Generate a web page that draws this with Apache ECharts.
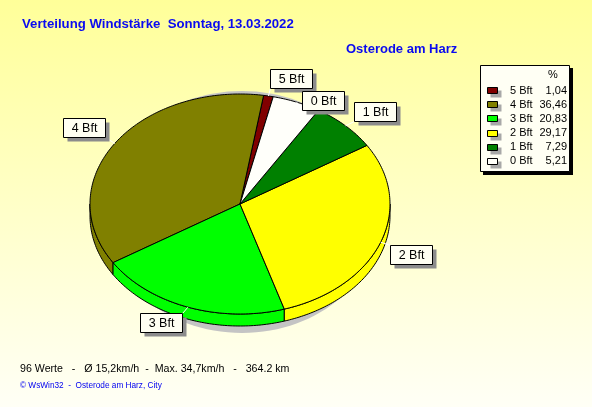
<!DOCTYPE html>
<html>
<head>
<meta charset="utf-8">
<script src="https://cdn.jsdelivr.net/npm/echarts@6/dist/echarts.min.js"></script>
<style>
  html, body { margin: 0; padding: 0; }
  #chart { width: 592px; height: 407px; }
</style>
</head>
<body>
<div id="chart"></div>
<script>
// Wind force distribution (Beaufort classes), share of readings in percent
const categories = ['5 Bft', '4 Bft', '3 Bft', '2 Bft', '1 Bft', '0 Bft'];
const percents = [1.04, 36.46, 20.83, 29.17, 7.29, 5.21];
const sliceColors = ['#800000', '#808000', '#00FF00', '#FFFF00', '#008000', '#FFFFFA'];

const titleText = 'Verteilung Windstärke  Sonntag, 13.03.2022';
const stationText = 'Osterode am Harz';
const statsText = '96 Werte   -   Ø 15,2km/h  -  Max. 34,7km/h   -   364.2 km';
const creditText = '© WsWin32  -  Osterode am Harz, City';

// Pie geometry: tilted disc (ellipse) with an extruded rim
const PIE = { cx: 240, cy: 204, rx: 150, ry: 110, depth: 12, start: 77.2 };
// Label box placement relative to the rim point at each slice's mid angle
const labelOffsets = [[23, -17], [-30.5, -16], [-26.7, 15.6], [30.5, 12.4], [29.5, -14.5], [26, -2]];
const LABEL_W = 42, LABEL_H = 19;
const FONT = '"Liberation Sans", Arial, sans-serif';

function rimPoint(deg, dy) {
  const r = deg * Math.PI / 180;
  return [PIE.cx + PIE.rx * Math.cos(r), PIE.cy - PIE.ry * Math.sin(r) + (dy || 0)];
}
function rimArc(a, b, dy) {
  const n = Math.max(2, Math.ceil(Math.abs(b - a)));
  const pts = [];
  for (let k = 0; k <= n; k++) pts.push(rimPoint(a + (b - a) * k / n, dy));
  return pts;
}

function renderSlice(params, api) {
  const i = params.dataIndex;
  const value = api.value(0);
  let a = PIE.start;
  for (let k = 0; k < i; k++) a += percents[k] * 3.6;
  const b = a + value * 3.6;
  const fill = sliceColors[i];
  const children = [];

  // visible rim: the front half of the disc
  [[180, 360], [540, 720]].forEach(([lo, hi]) => {
    const s = Math.max(a, lo), e = Math.min(b, hi);
    if (e > s) {
      const pts = rimArc(s, e, 0).concat(rimArc(e, s, PIE.depth));
      children.push({
        type: 'polygon', shape: { points: pts },
        style: { fill: fill, stroke: '#000', lineWidth: 1 }, z2: 1
      });
    }
  });

  // top face
  children.push({
    type: 'polygon',
    shape: { points: [[PIE.cx, PIE.cy]].concat(rimArc(a, b, 0)) },
    style: { fill: fill, stroke: '#000', lineWidth: 1, lineJoin: 'miter' }, z2: 2
  });

  // callout box
  const mid = (a + b) / 2;
  const p = rimPoint(mid, 0);
  const off = labelOffsets[i];
  const bx = Math.round(p[0] + off[0] - LABEL_W / 2) + 0.5;
  const by = Math.round(p[1] + off[1] - LABEL_H / 2) + 0.5;
  const cornerX = off[0] >= 0 ? bx : bx + LABEL_W;
  const cornerY = off[1] >= 0 ? by : by + LABEL_H;
  children.push({
    type: 'line', shape: { x1: p[0], y1: p[1], x2: cornerX, y2: cornerY },
    style: { stroke: '#FFFFFF', lineWidth: 1 }, z2: 10
  });
  children.push({
    type: 'rect', shape: { x: bx + 4, y: by + 4, width: LABEL_W, height: LABEL_H },
    style: { fill: '#8C8C8C' }, z2: 11
  });
  children.push({
    type: 'rect', shape: { x: bx, y: by, width: LABEL_W, height: LABEL_H },
    style: { fill: '#FFFFF2', stroke: '#000', lineWidth: 1 }, z2: 12
  });
  children.push({
    type: 'text', z2: 13,
    style: {
      text: categories[i], x: bx + LABEL_W / 2, y: by + LABEL_H / 2 + 0.5,
      align: 'center', verticalAlign: 'middle',
      font: '12.5px ' + FONT, fill: '#000'
    }
  });

  return { type: 'group', children: children };
}

// Legend panel built from the same arrays
const legendEls = [];
const LG = { x: 480, y: 65, w: 90, h: 107 };
legendEls.push({ type: 'rect', shape: { x: LG.x + 3, y: LG.y + 3, width: LG.w, height: LG.h }, style: { fill: '#000' } });
legendEls.push({ type: 'rect', shape: { x: LG.x + 0.5, y: LG.y + 0.5, width: LG.w - 1, height: LG.h - 1 }, style: { fill: '#FFFFF4', stroke: '#000', lineWidth: 1 } });
legendEls.push({ type: 'text', style: { text: '%', x: 553, y: 75, align: 'center', verticalAlign: 'middle', font: '11px ' + FONT, fill: '#000' } });
categories.forEach((name, i) => {
  const cy = 90.7 + 14.1 * i;
  legendEls.push({ type: 'rect', shape: { x: 490.5, y: Math.round(cy - 3.5) + 3.5, width: 11, height: 7 }, style: { fill: '#A8A8A8' } });
  legendEls.push({ type: 'rect', shape: { x: 487.5, y: Math.round(cy - 3.5) + 0.5, width: 10, height: 6 }, style: { fill: sliceColors[i], stroke: '#000', lineWidth: 1 } });
  legendEls.push({ type: 'text', style: { text: name, x: 510, y: cy, align: 'left', verticalAlign: 'middle', font: '11px ' + FONT, fill: '#000' } });
  legendEls.push({ type: 'text', style: { text: percents[i].toFixed(2).replace('.', ','), x: 567, y: cy, align: 'right', verticalAlign: 'middle', font: '11px ' + FONT, fill: '#000' } });
});

const chart = echarts.init(document.getElementById('chart'), null, { renderer: 'canvas' });
chart.setOption({
  animation: false,
  backgroundColor: {
    type: 'linear', x: 0, y: 0, x2: 0, y2: 1,
    colorStops: [{ offset: 0, color: '#FFFF99' }, { offset: 1, color: '#FFFFF6' }]
  },
  graphic: [
    // drop shadow under the disc
    { type: 'ellipse', z: 0, shape: { cx: PIE.cx + 2, cy: PIE.cy + 8, rx: PIE.rx - 10, ry: PIE.ry + 11 }, style: { fill: '#C4C4C4' } },
    { type: 'text', style: { text: titleText, x: 22, y: 24.8, verticalAlign: 'middle', font: 'bold 13.2px ' + FONT, fill: '#0A0AF0' } },
    { type: 'text', style: { text: stationText, x: 346, y: 49.4, verticalAlign: 'middle', font: 'bold 13px ' + FONT, fill: '#0A0AF0' } },
    { type: 'text', style: { text: statsText, x: 20, y: 368.8, verticalAlign: 'middle', font: '10.65px ' + FONT, fill: '#000' } },
    { type: 'text', style: { text: creditText, x: 20, y: 385.5, verticalAlign: 'middle', font: '8.25px ' + FONT, fill: '#0000F0' } },
    { type: 'group', children: legendEls }
  ],
  series: [{
    type: 'custom',
    coordinateSystem: 'none',
    silent: true,
    data: percents.map(v => [v]),
    renderItem: renderSlice
  }]
});
</script>
</body>
</html>
